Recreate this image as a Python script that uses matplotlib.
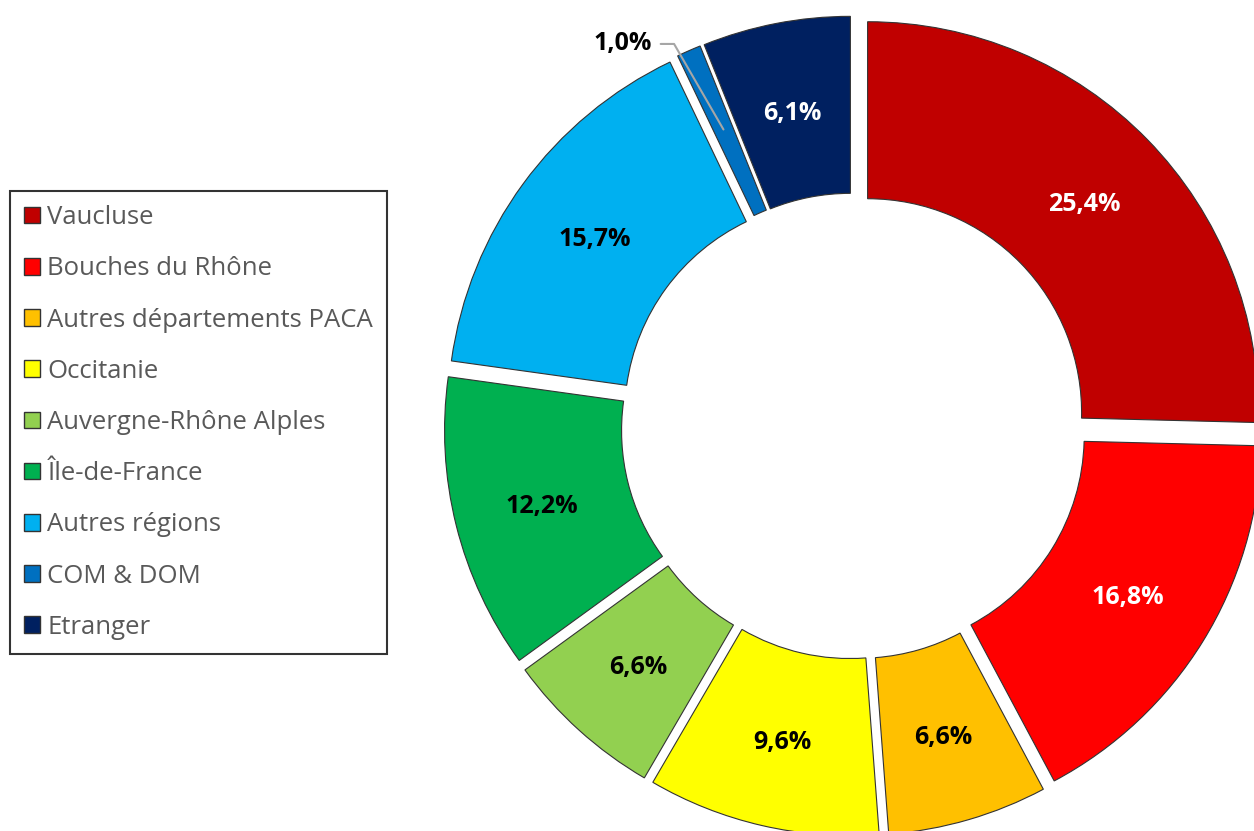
import numpy as np
import matplotlib
matplotlib.use('Agg')
import matplotlib.pyplot as plt

plt.rcParams['font.family'] = ['Open Sans', 'DejaVu Sans']

labels = ['Vaucluse', 'Bouches du Rhône', 'Autres départements PACA', 'Occitanie',
          'Auvergne-Rhône Alples', 'Île-de-France', 'Autres régions', 'COM & DOM', 'Etranger']
values = [25.4, 16.8, 6.6, 9.6, 6.6, 12.2, 15.7, 1.0, 6.1]
colors = ['#C00000', '#FF0000', '#FFC000', '#FFFF00', '#92D050',
          '#00B050', '#00B0F0', '#0070C0', '#002060']
text_colors = ['white', 'white', 'black', 'black', 'black', 'black', 'black', 'black', 'white']

W, H = 1254, 831
fig = plt.figure(figsize=(W / 100, H / 100), dpi=100)
ax = fig.add_axes([0, 0, 1, 1])

cx, cy = 854, H - 426
R = 391
inner = 214
gap = 19  # explode offset in data units (pixels)

wedges, _ = ax.pie(values, colors=colors, startangle=90, counterclock=False,
                   center=(cx, cy), radius=R, explode=[gap] * len(values),
                   wedgeprops=dict(width=R - inner, edgecolor='#333333', linewidth=0.8))

ax.set_xlim(0, W)
ax.set_ylim(0, H)
ax.set_aspect('equal')
ax.axis('off')

# percentage labels
for w, v, tc in zip(wedges, values, text_colors):
    th = np.deg2rad((w.theta1 + w.theta2) / 2)
    wx, wy = w.center
    txt = f'{v:.1f}%'.replace('.', ',')
    if v < 2:
        r_pt = R * 0.78
        px, py = wx + r_pt * np.cos(th), wy + r_pt * np.sin(th)
        th2 = th + np.deg2rad(7.5)
        tx, ty = wx + R * 1.10 * np.cos(th2), wy + R * 1.10 * np.sin(th2)
        ax.annotate(txt, xy=(px, py), xytext=(tx, ty), ha='center', va='center_baseline',
                    fontsize=18, fontweight='bold', color='black',
                    arrowprops=dict(arrowstyle='-', color='#A6A6A6', lw=1.5,
                                    shrinkA=4, shrinkB=0,
                                    connectionstyle='angle,angleA=0,angleB=120,rad=0'))
    else:
        r_lab = (R + inner) / 2
        ax.text(wx + r_lab * np.cos(th), wy + r_lab * np.sin(th), txt,
                ha='center', va='center_baseline', fontsize=18, fontweight='bold', color=tc)

leg = ax.legend(wedges, labels, loc='upper left', bbox_to_anchor=(10 / W, 1 - 191 / H),
                bbox_transform=fig.transFigure, frameon=True, fancybox=False,
                fontsize=18.5, labelcolor='#595959', handlelength=0.62, handleheight=0.62,
                handletextpad=0.28, labelspacing=1.02, borderpad=0.55, borderaxespad=0)
leg.get_frame().set_edgecolor('black')
leg.get_frame().set_linewidth(1.5)
for h in leg.legend_handles:
    h.set_edgecolor('#333333')
    h.set_linewidth(1.0)

fig.savefig('out.png', dpi=100)
